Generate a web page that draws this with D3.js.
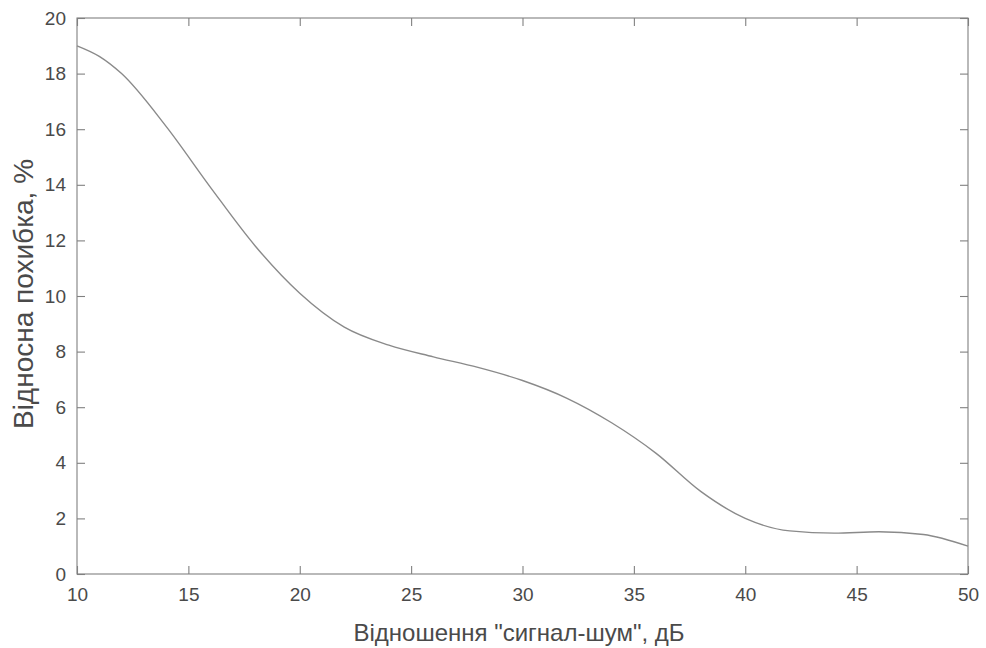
<!DOCTYPE html>
<html>
<head>
<meta charset="utf-8">
<script src="https://cdn.jsdelivr.net/npm/d3@7"></script>
<style>
  html, body { margin: 0; padding: 0; background: #fff; }
  svg { display: block; }
  text { font-family: "Liberation Sans", Arial, sans-serif; fill: #4a4a4a; }
</style>
</head>
<body>
<svg id="chart" width="986" height="648"></svg>
<script>
// Data
const snrDb = [10, 11, 12, 14, 16, 18, 20, 22, 24, 26, 28, 30, 32, 34, 36, 38, 40, 42, 44, 46, 48, 50];
const relError = [19.0, 18.62, 18.0, 16.1, 13.9, 11.8, 10.1, 8.88, 8.23, 7.81, 7.43, 6.96, 6.32, 5.44, 4.34, 2.97, 2.0, 1.55, 1.47, 1.52, 1.42, 1.0];
const xTicks = [10, 15, 20, 25, 30, 35, 40, 45, 50];
const yTicks = [0, 2, 4, 6, 8, 10, 12, 14, 16, 18, 20];
const xLabel = 'Відношення "сигнал-шум", дБ';
const yLabel = 'Відносна похибка, %';

const svg = d3.select("#chart");
const margin = { left: 77, right: 18, top: 18, bottom: 74 };
const W = 986, H = 648;
const x = d3.scaleLinear().domain([10, 50]).range([margin.left, W - margin.right]);
const y = d3.scaleLinear().domain([0, 20]).range([H - margin.bottom, margin.top]);

const axisColor = "#808080";
const tickLen = 8;
const fontSize = 19;

// Box
svg.append("rect")
  .attr("x", x(10)).attr("y", y(20))
  .attr("width", x(50) - x(10)).attr("height", y(0) - y(20))
  .attr("fill", "none").attr("stroke", axisColor).attr("stroke-width", 1.1);

// Axes (ticks inside)
const xAxis = svg.append("g").attr("transform", `translate(0,${y(0)})`)
  .call(d3.axisBottom(x).tickValues(xTicks).tickSize(-tickLen).tickPadding(tickLen + 6).tickFormat(d3.format("d")));
const xAxisTop = svg.append("g").attr("transform", `translate(0,${y(20)})`)
  .call(d3.axisTop(x).tickValues(xTicks).tickSize(-tickLen).tickFormat(""));
const yAxis = svg.append("g").attr("transform", `translate(${x(10)},0)`)
  .call(d3.axisLeft(y).tickValues(yTicks).tickSize(-tickLen).tickPadding(tickLen + 3).tickFormat(d3.format("d")));
const yAxisRight = svg.append("g").attr("transform", `translate(${x(50)},0)`)
  .call(d3.axisRight(y).tickValues(yTicks).tickSize(-tickLen).tickFormat(""));

[xAxis, xAxisTop, yAxis, yAxisRight].forEach(g => {
  g.select(".domain").remove();
  g.selectAll(".tick line").attr("stroke", axisColor).attr("stroke-width", 1.1);
  g.selectAll(".tick text").attr("font-size", fontSize).style("font-family", '"Liberation Sans", Arial, sans-serif').attr("fill", "#505050");
});
xAxis.selectAll(".tick text").attr("dy", "0.71em");

// Curve
const line = d3.line()
  .x((d, i) => x(snrDb[i]))
  .y(d => y(d))
  .curve(d3.curveMonotoneX);
svg.append("path")
  .datum(relError)
  .attr("d", line)
  .attr("fill", "none")
  .attr("stroke", "#8a8a8a")
  .attr("stroke-width", 1.4);

// Labels
svg.append("text")
  .attr("x", 519)
  .attr("y", 641)
  .attr("text-anchor", "middle")
  .attr("font-size", 24)
  .attr("fill", "#505050")
  .text(xLabel);

svg.append("text")
  .attr("transform", `translate(33,${294}) rotate(-90)`)
  .attr("text-anchor", "middle")
  .attr("font-size", 28)
  .attr("fill", "#505050")
  .text(yLabel);
</script>
</body>
</html>
